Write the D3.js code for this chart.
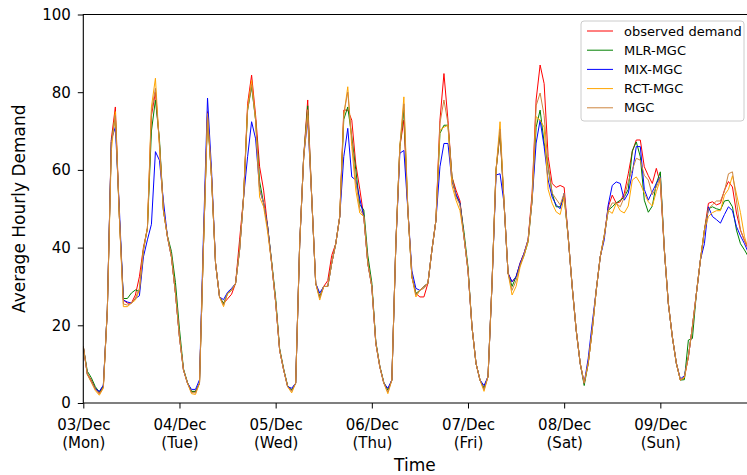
<!DOCTYPE html>
<html>
<head>
<meta charset="utf-8">
<script src="https://cdn.jsdelivr.net/npm/d3@7"></script>
<style>
  body { margin: 0; background: #fff; }
  svg { display: block; font-family: "DejaVu Sans", sans-serif; }
</style>
</head>
<body>
<div id="chart"></div>
<script>
// hourly values, 03/Dec 00:00 .. 09/Dec 23:00 (7 rows of 24 per series)
const observed = [
  14.5, 7.6, 5.9, 3.8, 2.5, 4.2, 24, 68, 76.2, 48, 26.5, 25.7, 25.7, 27.8, 32.5, 40, 45, 74, 80, 67, 49.6, 42.8, 37.6, 28.3,
  17, 8.5, 5.1, 2.9, 2.9, 5.1, 41, 75, 58.2, 36, 27.3, 25.6, 26.8, 28, 30.8, 42, 53, 77, 84.4, 74, 60.8, 54.8, 45.4, 36,
  26, 13.6, 8.5, 4.2, 3.3, 5.1, 41, 63.4, 78, 53, 30.8, 27.3, 30, 31.5, 38, 41, 48, 75.4, 75.4, 72.8, 61.5, 55, 48, 36,
  30, 15.4, 9.3, 5.1, 3.3, 5.9, 41, 66, 72.8, 49.6, 32.5, 28.2, 27.3, 27.3, 30.8, 39.4, 47, 72.8, 84.8, 72.8, 58.2, 54.8, 52, 42.8,
  34.2, 19.6, 10.2, 5.9, 3.8, 6.8, 30.8, 60, 69.4, 51.4, 33.4, 31.2, 32.5, 36, 38.6, 42, 54, 78, 87, 82.2, 63.4, 56.5, 55.5, 56,
  55.5, 42.8, 30, 18.8, 10.2, 5.1, 10.2, 18.8, 29, 37.6, 43, 50.5, 53.5, 51.4, 51.8, 54, 59, 64.7, 67.7, 67.7, 60.8, 58.5, 56.5, 60.4,
  56.5, 39.4, 25.6, 17, 10.2, 5.9, 6.5, 11.9, 19.6, 28.2, 36.8, 44.5, 51.4, 51.8, 51, 51.4, 54.8, 57, 55.6, 48.9, 44.5, 41.8, 39.4, 37
];
const mlrMgc = [
  14.5, 8.2, 6.5, 4.2, 2.8, 4.4, 24, 67, 74, 48, 26.9, 26.9, 28.3, 29.1, 28.7, 39.4, 45, 70, 78, 68, 49.6, 43, 39, 31,
  19, 8.8, 5.3, 3, 3, 5.1, 41, 74, 58.2, 36, 27.3, 25.6, 28.2, 29, 30.8, 39.4, 53, 75.4, 81.4, 72.8, 57, 51.4, 45.4, 36.5,
  27, 14, 8.8, 4.4, 3.3, 5.1, 41, 63.4, 76.5, 53, 30.8, 27.3, 30, 30, 36, 41, 48, 73, 76.2, 68.5, 60, 51, 49.7, 38,
  31, 15.8, 9.5, 5.3, 3.3, 5.9, 41, 66, 75.4, 49.6, 32.5, 28.2, 29, 30, 30.8, 39.4, 47, 69.4, 71.5, 71.5, 58.2, 53.5, 51.4, 44,
  35, 19.6, 10.2, 5.9, 3.8, 6.8, 30.8, 60, 69.8, 51.4, 33.4, 30, 32.5, 35.5, 38, 41.5, 52.2, 71, 75.4, 67, 60.8, 54, 50.5, 50.5,
  53, 42.8, 30, 18.8, 10.2, 4.5, 10.2, 18.8, 29, 37.6, 43, 49.6, 50.5, 51.5, 52.2, 53, 55, 64.9, 67.2, 63.4, 52.2, 49.1, 50.7, 56.5,
  59.5, 39.4, 25.6, 17, 10.2, 5.9, 6, 16.2, 16.6, 28.2, 36.8, 44.5, 50, 50.5, 50, 49.7, 52, 52.2, 50.5, 44.5, 41, 39.4, 37.6, 35
];
const mixMgc = [
  14.5, 7.4, 5.5, 3.6, 3, 4.6, 24, 67.7, 71, 50, 26.5, 26, 25.7, 26.9, 27.6, 37.6, 42, 46, 64.7, 62.5, 52, 42.8, 37.6, 28.3,
  17, 8.5, 5.1, 3.5, 3.5, 6, 44, 78.5, 60, 36, 27.3, 26.6, 28.5, 29.5, 30.8, 39.4, 53, 63.4, 72.4, 68, 55, 51.4, 45.4, 36,
  26, 13.6, 8.5, 4.2, 3.8, 5.1, 41, 63.4, 73, 53, 30.8, 28.3, 30, 30, 36, 41, 48, 63.4, 70.7, 58.2, 57.4, 52.5, 48, 36,
  30, 15.4, 9.3, 5.1, 3.8, 5.9, 41, 64.3, 65, 49.6, 34, 29.5, 29, 30, 30.8, 39.4, 47, 60.8, 66.8, 66.8, 57, 53.8, 51.4, 42.8,
  34.2, 19.6, 10.2, 5.9, 4.5, 6.8, 30.8, 58.7, 59, 51.4, 33.4, 31.2, 32.5, 36, 38.6, 42, 52.2, 66.9, 72.8, 66, 57.4, 53, 51, 50,
  54, 42.8, 30, 18.8, 10.2, 5.1, 11.5, 20.5, 29, 37.6, 42, 51, 56, 56.9, 56.5, 52.2, 54, 59.1, 66, 66, 55, 52.2, 54.4, 56.5,
  58.2, 39.4, 25.6, 17, 10.2, 6.2, 7, 11.9, 19.6, 28.2, 36.8, 41, 50.5, 48, 47.2, 46.3, 48.5, 50.5, 49.5, 45.4, 43, 41, 38.6, 36
];
const rctMgc = [
  14.5, 7.3, 5.3, 3.2, 2, 3.8, 24, 65, 75, 48, 24.8, 24.8, 25.7, 26.5, 29, 39.4, 45, 76.2, 83.6, 66, 49.6, 42.8, 37.6, 28.3,
  17, 8.5, 5.1, 2.4, 2.2, 5.1, 41, 73.7, 58.2, 36, 27.3, 24.8, 28.2, 29, 30.8, 39.4, 53, 76, 83, 72.8, 53, 50.5, 44, 36,
  26, 13.6, 8.5, 4.2, 2.6, 5.1, 41, 63.4, 74, 53, 30.8, 26.5, 30, 30, 36, 41, 48, 74, 81.4, 66, 54.8, 48.9, 48, 36,
  30, 15.4, 9.3, 5.1, 2.4, 5.9, 41, 66, 78.8, 49.6, 32.5, 27.3, 29, 30, 30.8, 39.4, 47, 70.2, 71, 71.5, 56, 52.2, 49.5, 42.8,
  34.2, 19.6, 10.2, 5.9, 3, 6.8, 30.8, 60, 72.4, 51.4, 33.4, 27.8, 30, 35, 38, 41.5, 52.2, 73.7, 72.8, 71, 55, 51.4, 49.2, 48.5,
  53, 42.8, 30, 18.8, 10.2, 5.1, 10.2, 18.8, 29, 37.6, 43, 49.6, 48.8, 51.4, 49.5, 48.9, 50.7, 57.4, 58.2, 56.5, 54, 51.8, 50.7, 54.4,
  57.5, 39.4, 25.6, 17, 10.2, 5.9, 6.5, 11.9, 19.6, 28.2, 36.8, 44.5, 48, 49, 49.5, 49.5, 53.5, 55, 58.5, 53.8, 49, 42.8, 39.4, 37
];
const mgc = [
  14.5, 7.5, 5.6, 3.5, 2.3, 4, 24, 67, 74, 48, 25.5, 25.2, 25.7, 27, 29.5, 39.4, 45, 75, 81, 67, 49.6, 42.8, 37.6, 28.3,
  17, 8.5, 5.1, 2.7, 2.6, 5.1, 41, 74.5, 58.2, 36, 27.3, 25.2, 28.2, 29, 30.8, 39.4, 53, 75.4, 82, 72.8, 55, 51.4, 45, 36,
  26, 13.6, 8.5, 4.2, 3, 5.1, 41, 63.4, 75.5, 53, 30.8, 27, 30, 30, 36, 41, 48, 74.5, 80, 68, 57, 50, 48, 36,
  30, 15.4, 9.3, 5.1, 2.8, 5.9, 41, 66, 77, 49.6, 32.5, 27.8, 29, 29.5, 30.8, 39.4, 47, 72, 78, 72, 58.2, 53, 51, 42.8,
  34.2, 19.6, 10.2, 5.9, 3.4, 6.8, 30.8, 60, 70.5, 51.4, 33.4, 29, 31.5, 35.5, 38.3, 42, 53, 76.5, 79.8, 74, 60.8, 54, 52.5, 51,
  54, 42.8, 30, 18.8, 10.2, 5.1, 10.2, 18.8, 29, 37.6, 43, 49.6, 51.5, 51.4, 50.5, 53, 57, 60, 63, 62.5, 58.6, 57.4, 53.6, 55.6,
  58, 39.4, 25.6, 17, 10.2, 5.9, 6.8, 11.9, 19.6, 28.2, 36.8, 44.5, 50, 51, 52, 52, 54.5, 59, 59.5, 52, 44.5, 41.8, 40, 38
];

const seriesNames = ["observed demand", "MLR-MGC", "MIX-MGC", "RCT-MGC", "MGC"];
const seriesValues = [observed, mlrMgc, mixMgc, rctMgc, mgc];
const seriesColors = ["red", "green", "blue", "orange", "peru"];

const tickHours = [0, 24, 48, 72, 96, 120, 144];
const tickDates = ["03/Dec", "04/Dec", "05/Dec", "06/Dec", "07/Dec", "08/Dec", "09/Dec"];
const tickDays = ["(Mon)", "(Tue)", "(Wed)", "(Thu)", "(Fri)", "(Sat)", "(Sun)"];
const yTicks = [0, 20, 40, 60, 80, 100];

const width = 747, height = 475;
const plotLeft = 83.3, plotRight = 750.5, plotTop = 14.5, plotBottom = 403;

let svg = d3.select("#chart").append("svg")
    .attr("width", width)
    .attr("height", height);

svg.append("rect").attr("width", width).attr("height", height).attr("fill", "#fff");

// x is hours since 03/Dec 00:00, the plot runs slightly past the window edge
let x = d3.scaleLinear().domain([0, 166.5]).range([plotLeft, plotRight]);
let y = d3.scaleLinear().domain([0, 100]).range([plotBottom, plotTop]);

svg.append("clipPath").attr("id", "plotclip")
  .append("rect")
    .attr("x", plotLeft).attr("y", plotTop)
    .attr("width", plotRight - plotLeft).attr("height", plotBottom - plotTop);

let line = d3.line()
    .x((d, i) => x(i))
    .y(d => y(d));

svg.append("g")
    .attr("clip-path", "url(#plotclip)")
  .selectAll("path")
  .data(seriesValues)
  .enter().append("path")
    .attr("fill", "none")
    .attr("stroke", (d, i) => seriesColors[i])
    .attr("stroke-width", 1)
    .attr("stroke-linejoin", "round")
    .attr("d", d => line(d));

// axes
let yAxis = d3.axisLeft(y).tickValues(yTicks).tickSize(5.5).tickPadding(7);
let gy = svg.append("g")
    .attr("transform", "translate(" + plotLeft + ",0)")
    .call(yAxis);
gy.attr("font-size", 15).attr("font-family", "DejaVu Sans, sans-serif");

let xAxis = d3.axisBottom(x).tickValues(tickHours).tickSize(5.5).tickFormat("");
let gx = svg.append("g")
    .attr("transform", "translate(0," + plotBottom + ")")
    .call(xAxis);
gx.attr("font-size", 15).attr("font-family", "DejaVu Sans, sans-serif");

gx.selectAll(".tick").each(function(d, i) {
  let t = d3.select(this).select("text")
      .attr("y", null).attr("dy", null)
      .attr("text-anchor", "middle");
  t.append("tspan").attr("x", 0).attr("y", 26.5).text(tickDates[i]);
  t.append("tspan").attr("x", 0).attr("y", 44.5).text(tickDays[i]);
});

[gx, gy].forEach(g => {
  g.select(".domain").remove();
  g.selectAll(".tick line").attr("stroke", "#000").attr("stroke-width", 1);
  g.selectAll(".tick text").attr("fill", "#000");
});

// spines (right one falls outside the window)
svg.append("path")
    .attr("d", "M" + plotRight + "," + plotTop + "H" + plotLeft + "V" + plotBottom + "H" + plotRight)
    .attr("fill", "none")
    .attr("stroke", "#000")
    .attr("stroke-width", 1.1);

// axis titles
svg.append("text")
    .attr("x", (plotLeft + plotRight) / 2 - 2)
    .attr("y", 471)
    .attr("text-anchor", "middle")
    .attr("font-size", 17)
    .text("Time");

svg.append("text")
    .attr("transform", "translate(25," + ((plotTop + plotBottom) / 2) + ") rotate(-90)")
    .attr("text-anchor", "middle")
    .attr("font-size", 17)
    .text("Average Hourly Demand");

// legend
let legend = svg.append("g").attr("transform", "translate(581,21)");
legend.append("rect")
    .attr("width", 163).attr("height", 100)
    .attr("rx", 3)
    .attr("fill", "#fff").attr("fill-opacity", 0.8)
    .attr("stroke", "#ccc").attr("stroke-width", 1);

let rows = legend.selectAll(".row")
  .data(seriesNames)
  .enter().append("g")
    .attr("class", "row")
    .attr("transform", (d, i) => "translate(0," + (10 + i * 19.2) + ")");

rows.append("line")
    .attr("x1", 6).attr("x2", 32)
    .attr("stroke", (d, i) => seriesColors[i])
    .attr("stroke-width", 1);

rows.append("text")
    .attr("x", 43)
    .attr("dy", "0.35em")
    .attr("font-size", 13)
    .text(d => d);
</script>
</body>
</html>
